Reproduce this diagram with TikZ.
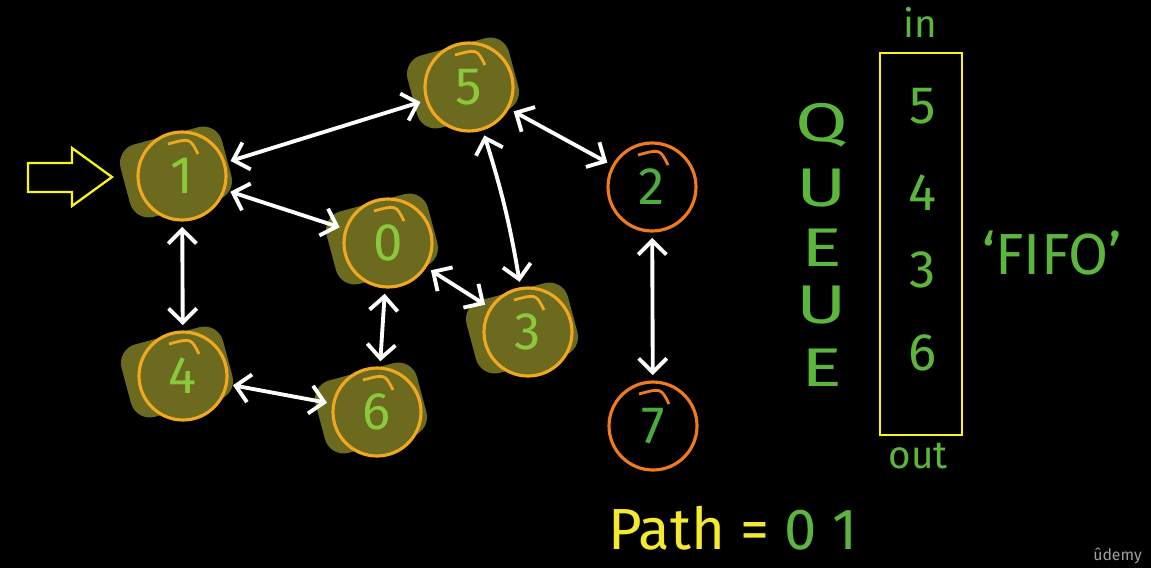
\documentclass[tikz,border=0pt]{standalone}
\usepackage{fontspec}
\setmainfont{Fira Sans}
\usetikzlibrary{arrows.meta}
\pgfdeclarelayer{background}
\pgfsetlayers{background,main}
\definecolor{olivefill}{RGB}{108,106,30}
\definecolor{ringvisit}{RGB}{240,168,32}
\definecolor{ringnew}{RGB}{240,122,30}
\definecolor{digitlight}{RGB}{140,200,62}
\definecolor{digitgreen}{RGB}{76,172,62}
\definecolor{chalkgreen}{RGB}{92,182,62}
\definecolor{chalkyellow}{RGB}{244,232,48}
\definecolor{penyellow}{RGB}{250,246,20}

\begin{document}
\begin{tikzpicture}[x=0.02cm,y=-0.02cm,
  visited/.style={circle,draw=ringvisit,line width=1.8pt,fill=olivefill,minimum size=1.76cm,inner sep=0pt,text=digitlight,font=\fontsize{30}{30}\selectfont},
  fresh/.style={circle,draw=ringnew,line width=1.8pt,minimum size=1.76cm,inner sep=0pt,text=digitgreen,font=\fontsize{30}{30}\selectfont},
  scribble/.style={rectangle,rounded corners=11pt,fill=olivefill,minimum width=2.1cm,minimum height=1.5cm,rotate=15},
  twoway/.style={<->,>={Straight Barb[length=8pt,width=16pt]},white,line width=2.2pt,shorten <=3pt,shorten >=3pt},
  chalk/.style={text=chalkgreen,font=\fontsize{30}{30}\selectfont}]
\useasboundingbox (0,0) rectangle (1151,568);

\node[visited] (n1) at (182,176) {1};
\node[visited] (n5) at (469,87) {5};
\node[visited] (n0) at (388,243) {0};
\node[visited] (n3) at (528,332) {3};
\node[visited] (n4) at (183,376) {4};
\node[visited] (n6) at (377,412) {6};
\node[fresh] (n2) at (652,187) {2};
\node[fresh] (n7) at (653,426) {7};

% backdrop and scribbles behind the visited nodes
\begin{pgfonlayer}{background}
\fill[black] (0,0) rectangle (1151,568);
\foreach \n in {n1,n5,n0,n3,n4,n6}
  \node[scribble] at ([shift={(-6,-4)}]\n.center) {};
\end{pgfonlayer}

% pen ticks on the rings
\foreach \n in {n1,n5,n0,n3,n4,n6}
  \draw[ringvisit,line width=1.6pt] ([shift={(-14,-32)}]\n.center) .. controls ([shift={(8,-38)}]\n.center) .. ([shift={(16,-22)}]\n.center);
\foreach \n in {n2,n7}
  \draw[ringnew,line width=1.6pt] ([shift={(-14,-32)}]\n.center) .. controls ([shift={(8,-38)}]\n.center) .. ([shift={(16,-22)}]\n.center);

\path[twoway] (n1) edge [] (n5);
\path[twoway] (n1) edge [] (n0);
\path[twoway] (n1) edge [] (n4);
\path[twoway] (n5) edge [] (n2);
\path[twoway] (n5) edge [bend left=4] (n3);
\path[twoway] (n0) edge [] (n3);
\path[twoway] (n0) edge [] (n6);
\path[twoway] (n4) edge [] (n6);
\path[twoway] (n2) edge [] (n7);

% start marker
\draw[penyellow,line width=1.3pt] (28,163) -- (72,163) -- (72,148) -- (112,177) -- (72,206) -- (72,192) -- (28,192) -- cycle;

% the queue
\node[draw=penyellow,line width=1.3pt,minimum width=1.64cm,minimum height=7.64cm,inner sep=0pt] (queue) at (921,244) {};
\foreach \v/\y in {5/106,4/193,3/270,6/353}
  \node[chalk] (q\v) at (923,\y) {\v};
\foreach \l/\y [count=\i] in {Q/125,U/188,E/248,U/305,E/368}
  \node[chalk,font=\fontsize{31}{31}\selectfont,inner sep=0pt,xscale=1.4] (word\i) at (822,\y) {\l};
\node[chalk,font=\fontsize{22}{22}\selectfont] (qin) at (920,22) {in};
\node[chalk,font=\fontsize{22}{22}\selectfont] (qout) at (918,456) {out};
\node[chalk,font=\fontsize{33}{33}\selectfont] (fifo) at (1052,253) {‘FIFO’};

\node[font=\fontsize{33}{33}\selectfont] (path) at (733,528) {\textcolor{chalkyellow}{Path =} \textcolor{chalkgreen}{0 1}};
\node[text=gray!75,font=\fontsize{9}{9}\selectfont,anchor=east] (brand) at (1148,556) {ûdemy};
\end{tikzpicture}
\end{document}
